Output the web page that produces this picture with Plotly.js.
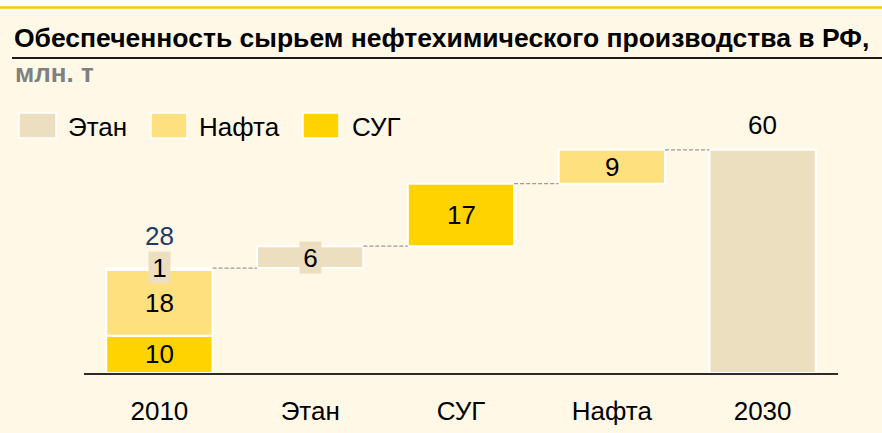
<!DOCTYPE html>
<html>
<head>
<meta charset="utf-8">
<script src="https://cdn.plot.ly/plotly-3.0.1.min.js"></script>
<style>
html,body{margin:0;padding:0;background:#FFF8E6;}
#chart{width:882px;height:433px;}
</style>
</head>
<body>
<div id="chart"></div>
<script>
// ---- data ----
const categories = ['2010', 'Этан', 'СУГ', 'Нафта', '2030'];
// 2010 stack, bottom to top: СУГ, Нафта, Этан
const stack2010Names = ['СУГ', 'Нафта', 'Этан'];
const stack2010Values = [10, 17.7, 0.5];
// increments to 2030
const incrementNames = ['Этан', 'СУГ', 'Нафта'];
const incrementValues = [5.9, 16.8, 9.1];
const total2030 = 60;
const legendNames = ['Этан', 'Нафта', 'СУГ'];

// ---- styles ----
const FONT = 'Liberation Sans, Arial, sans-serif';
const FS = 26;
const colors = {'Этан': '#EBDFBF', 'Нафта': '#FFE07E', 'СУГ': '#FFD300'};
const BG = '#FFF8E6';
const BARW = 0.705;

// derived levels
const total2010 = stack2010Values.reduce((a, b) => a + b, 0);
const levels = [total2010];
incrementValues.forEach(v => levels.push(levels[levels.length - 1] + v));

// build per-series bar data
const series = {};
legendNames.forEach(n => series[n] = {x: [], y: [], base: []});
let acc = 0;
stack2010Names.forEach((n, i) => {
  series[n].x.push(0); series[n].y.push(stack2010Values[i]); series[n].base.push(acc);
  acc += stack2010Values[i];
});
incrementNames.forEach((n, i) => {
  series[n].x.push(i + 1); series[n].y.push(incrementValues[i]); series[n].base.push(levels[i]);
});
series['Этан'].x.push(4); series['Этан'].y.push(total2030); series['Этан'].base.push(0);

const traces = ['СУГ', 'Нафта', 'Этан'].map(n => ({
  type: 'bar', name: n, x: series[n].x, y: series[n].y, base: series[n].base,
  width: BARW,
  marker: {color: colors[n], line: {color: '#FFFFFF', width: 2}},
  hoverinfo: 'skip', showlegend: false
}));

// layout helpers (pixel -> paper)
const PL = 84, PR = 838, PT = 103, PB = 373;
const px = p => (p - PL) / (PR - PL);
const py = p => (PB - p) / (PB - PT);

const annotations = [];
const lbl = (x, y, text, extra) => annotations.push(Object.assign({
  x: x, y: y, xref: 'x', yref: 'y', text: text, showarrow: false,
  font: {family: FONT, size: FS, color: '#000'}
}, extra || {}));
const boxed = n => ({bgcolor: colors[n], borderpad: 0, width: 21, height: 31});

// 2010 stack labels
acc = 0;
stack2010Names.forEach((n, i) => {
  const v = stack2010Values[i];
  if (n === 'Этан') {
    lbl(0, acc + v, String(Math.round(v)), Object.assign(boxed(n), {yshift: 1}));
  } else {
    lbl(0, acc + v / 2, String(Math.round(v)));
  }
  acc += v;
});
// total 2010
lbl(0, total2010, String(Math.round(total2010)), {yanchor: 'bottom', yshift: 15, font: {family: FONT, size: FS, color: '#1F3A6B'}});
// increments
incrementNames.forEach((n, i) => {
  const v = incrementValues[i];
  const extra = n === 'Этан' ? boxed(n) : {};
  lbl(i + 1, levels[i] + v / 2, String(Math.round(v)), extra);
});
// 2030 total
lbl(4, total2030, String(total2030), {yanchor: 'bottom', yshift: 8});

// legend (manual)
const legendBoxes = [[19, 56], [151, 187], [303, 339]];
const legendTextX = [66, 197, 350];
const shapes = [];
legendNames.forEach((n, i) => {
  shapes.push({type: 'rect', xref: 'paper', yref: 'paper',
    x0: px(legendBoxes[i][0]), x1: px(legendBoxes[i][1]), y0: py(138), y1: py(113),
    fillcolor: colors[n], line: {color: '#FFFFFF', width: 1.5}});
  annotations.push({xref: 'paper', yref: 'paper', x: px(legendTextX[i]), y: py(127),
    xanchor: 'left', yanchor: 'middle', text: n, showarrow: false,
    font: {family: FONT, size: FS, color: '#000'}});
});

// connectors
levels.forEach((lv, i) => {
  shapes.push({type: 'line', xref: 'x', yref: 'y', x0: i + BARW / 2, x1: i + 1 - BARW / 2, y0: lv, y1: lv,
    line: {color: '#9A9A9A', width: 1.3, dash: '4px,2px'}});
});

// frame decorations
shapes.push({type: 'rect', xref: 'paper', yref: 'paper', x0: px(-5), x1: px(890), y0: py(7), y1: py(-5),
  fillcolor: '#FFFFFF', line: {width: 0}, layer: 'below'});
shapes.push({type: 'line', xref: 'paper', yref: 'paper', x0: px(-5), x1: px(890), y0: py(7.5), y1: py(7.5),
  line: {color: '#FFC800', width: 2.5}});
shapes.push({type: 'line', xref: 'paper', yref: 'paper', x0: px(12), x1: px(890), y0: py(58), y1: py(58),
  line: {color: '#1A1A1A', width: 2}});

// subtitle
annotations.push({xref: 'paper', yref: 'paper', x: px(13), y: py(73), xanchor: 'left', yanchor: 'middle',
  text: '<b>млн. т</b>', showarrow: false, font: {family: FONT, size: FS, color: '#808080'}});

const layout = {
  width: 882, height: 433,
  margin: {l: PL, r: 882 - PR, t: PT, b: 433 - PB, pad: 0},
  paper_bgcolor: BG, plot_bgcolor: 'rgba(0,0,0,0)',
  barmode: 'overlay',
  title: {text: '<b>Обеспеченность сырьем нефтехимического производства в РФ,</b>',
    x: 14 / 882, xanchor: 'left', xref: 'container', y: 1 - 38 / 433, yanchor: 'middle', yref: 'container',
    font: {family: FONT, size: 26.5, color: '#000'}},
  xaxis: {range: [-0.5, 4.5], tickvals: [0, 1, 2, 3, 4], ticktext: categories,
    showline: true, linecolor: '#2B2B2B', linewidth: 2, ticks: '', showgrid: false, zeroline: false,
    ticklabelstandoff: 14,
    tickfont: {family: FONT, size: FS, color: '#000'}, fixedrange: true},
  yaxis: {range: [0, 72.6], visible: false, showgrid: false, zeroline: false, fixedrange: true},
  annotations: annotations, shapes: shapes, showlegend: false,
  font: {family: FONT}
};

Plotly.newPlot('chart', traces, layout, {staticPlot: true, displayModeBar: false});
</script>
</body>
</html>
